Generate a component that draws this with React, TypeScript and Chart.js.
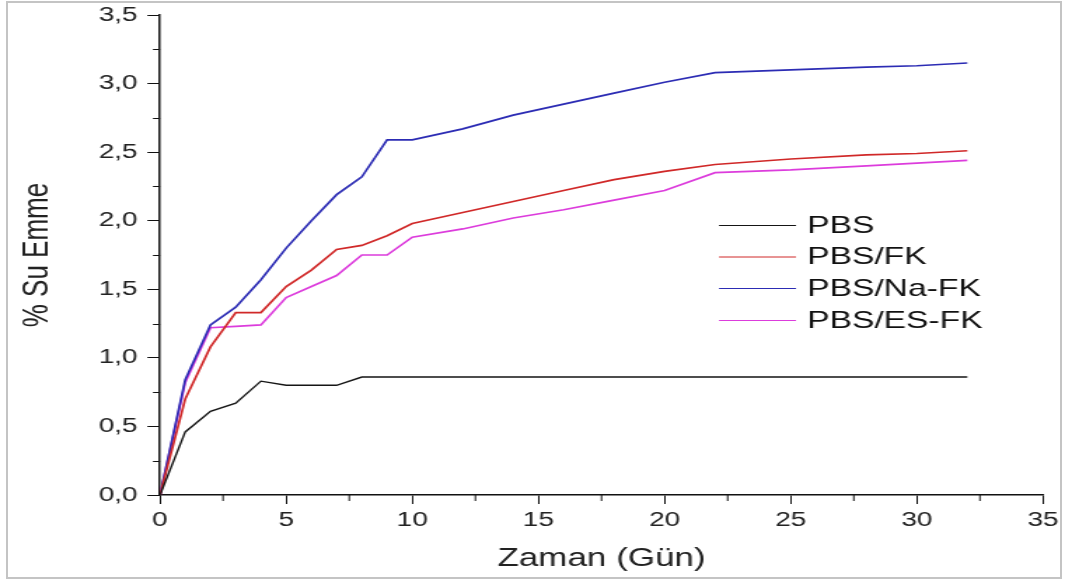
import React, { useEffect, useRef } from "react";
import { Chart, registerables } from "chart.js";

Chart.register(...registerables);

// ---- data ----
const days = [0, 1, 2, 3, 4, 5, 6, 7, 8, 9, 10, 12, 14, 16, 18, 20, 22, 25, 28, 30, 32];
const pbs = [0, 0.46, 0.61, 0.67, 0.83, 0.8, 0.8, 0.8, 0.86, 0.86, 0.86, 0.86, 0.86, 0.86, 0.86, 0.86, 0.86, 0.86, 0.86, 0.86, 0.86];
const pbsFk = [0, 0.7, 1.08, 1.33, 1.33, 1.52, 1.64, 1.79, 1.82, 1.89, 1.98, 2.06, 2.14, 2.22, 2.3, 2.36, 2.41, 2.45, 2.48, 2.49, 2.51];
const pbsNaFk = [0, 0.84, 1.24, 1.37, 1.57, 1.8, 2.0, 2.19, 2.32, 2.59, 2.59, 2.67, 2.77, 2.85, 2.93, 3.01, 3.08, 3.1, 3.12, 3.13, 3.15];
const pbsEsFk = [0, 0.82, 1.22, 1.23, 1.24, 1.44, 1.52, 1.6, 1.75, 1.75, 1.88, 1.94, 2.02, 2.08, 2.15, 2.22, 2.35, 2.37, 2.4, 2.42, 2.44];

const seriesLabels = ["PBS", "PBS/FK", "PBS/Na-FK", "PBS/ES-FK"];
const seriesValues = [pbs, pbsFk, pbsNaFk, pbsEsFk];
const seriesColors = ["#151515", "#d02828", "#2c2cb4", "#dc3cdc"];
const seriesWidths = [1.4, 1.7, 1.7, 1.7];

const xTitle = "Zaman (Gün)";
const yTitle = "% Su Emme";

// ---- layout ----
const SCREEN_W = 1065;
const H = 580;
const W = 760; // logical canvas width; the picture is stretched horizontally
const S = SCREEN_W / W;
const FONT = "'Liberation Sans', Arial, sans-serif";

const minorTicks = {
  id: "minorTicks",
  afterDraw(chart: any) {
    const { ctx, chartArea, scales } = chart;
    const x = scales.x;
    const y = scales.y;
    ctx.save();
    ctx.strokeStyle = "#111";
    ctx.lineWidth = 1;
    for (let v = 0.25; v < 3.5; v += 0.5) {
      const py = Math.round(y.getPixelForValue(v)) + 0.5;
      ctx.beginPath();
      ctx.moveTo(chartArea.left - 5, py);
      ctx.lineTo(chartArea.left, py);
      ctx.stroke();
    }
    for (let v = 2.5; v < 35; v += 5) {
      const px = x.getPixelForValue(v);
      ctx.beginPath();
      ctx.moveTo(px, chartArea.bottom);
      ctx.lineTo(px, chartArea.bottom + 6);
      ctx.stroke();
    }
    ctx.restore();
  },
};

const insideLegend = {
  id: "insideLegend",
  afterDraw(chart: any) {
    const { ctx } = chart;
    const x0 = 719 / S;
    const x1 = 796 / S;
    const tx = 807 / S;
    const ys = [225, 256.5, 288, 320];
    ctx.save();
    ctx.font = `24px ${FONT}`;
    ctx.textBaseline = "middle";
    ctx.textAlign = "left";
    chart.data.datasets.forEach((ds: any, i: number) => {
      ctx.strokeStyle = ds.borderColor;
      ctx.lineWidth = 1;
      ctx.beginPath();
      ctx.moveTo(x0, ys[i] + 0.5);
      ctx.lineTo(x1, ys[i] + 0.5);
      ctx.stroke();
      ctx.fillStyle = "#111";
      ctx.fillText(ds.label, tx, ys[i] + 1);
    });
    ctx.restore();
  },
};

export default function App() {
  const ref = useRef<HTMLCanvasElement>(null);

  useEffect(() => {
    document.body.style.margin = "0";
    const canvas = ref.current!;
    const chart = new Chart(canvas, {
      type: "line",
      data: {
        datasets: seriesLabels.map((label, i) => ({
          label,
          data: days.map((d, j) => ({ x: d, y: seriesValues[i][j] })),
          borderColor: seriesColors[i],
          backgroundColor: seriesColors[i],
          borderWidth: seriesWidths[i],
          pointRadius: 0,
          tension: 0,
          fill: false,
        })),
      },
      options: {
        responsive: false,
        animation: false,
        devicePixelRatio: 1,
        layout: { padding: { top: 15, right: (SCREEN_W - 1043) / S, left: 0, bottom: 0 } },
        plugins: {
          legend: { display: false },
          tooltip: { enabled: false },
        },
        scales: {
          x: {
            type: "linear",
            min: 0,
            max: 35,
            border: { display: true, color: "#111", width: 1.5 },
            grid: { drawOnChartArea: false, drawTicks: true, tickLength: 9, color: "#111", lineWidth: 1 },
            ticks: {
              stepSize: 5,
              padding: 4,
              color: "#222",
              font: { family: FONT, size: 20 },
              maxRotation: 0,
              autoSkip: false,
            },
            title: {
              display: true,
              text: xTitle,
              color: "#222",
              font: { family: FONT, size: 25 },
              padding: { top: 0, bottom: 6 },
            },
            afterFit: (s: any) => {
              s.height = H - 495;
            },
          },
          y: {
            type: "linear",
            min: 0,
            max: 3.5,
            border: { display: true, color: "#111", width: 1.5 },
            grid: { drawOnChartArea: false, drawTicks: true, tickLength: 9, color: "#111", lineWidth: 1 },
            ticks: {
              stepSize: 0.5,
              padding: 7,
              color: "#222",
              font: { family: FONT, size: 20, lineHeight: 0.8 },
              callback: (v: any) => Number(v).toFixed(1).replace(".", ","),
            },
            title: {
              display: true,
              text: yTitle,
              color: "#222",
              font: { family: FONT, size: 26 },
              padding: { top: 11, bottom: 0 },
            },
            afterFit: (s: any) => {
              s.width = 160 / S;
            },
          },
        },
      },
      plugins: [minorTicks, insideLegend],
    } as any);
    return () => chart.destroy();
  }, []);

  return (
    <div style={{ position: "relative", width: SCREEN_W, height: H, background: "#fff" }}>
      <canvas
        ref={ref}
        width={W}
        height={H}
        style={{ width: `${SCREEN_W}px`, height: `${H}px`, display: "block" }}
      />
      <div
        style={{
          position: "absolute",
          left: 6,
          top: 1,
          width: 1052,
          height: 574,
          border: "2px solid #c4c4c4",
          pointerEvents: "none",
        }}
      />
    </div>
  );
}
